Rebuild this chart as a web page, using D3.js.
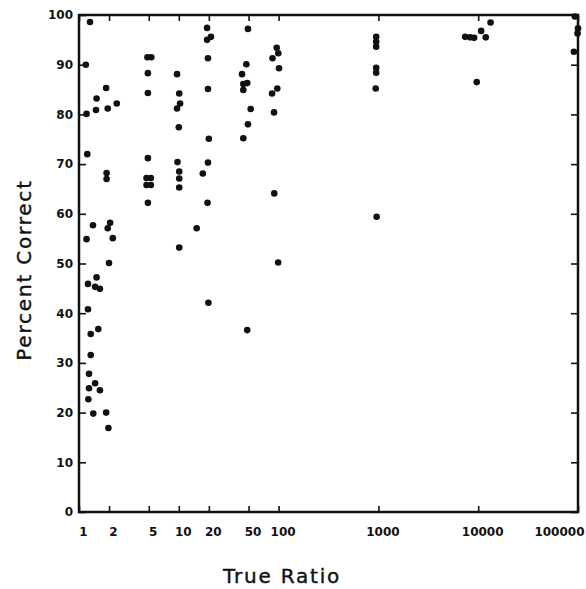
<!DOCTYPE html>
<html>
<meta charset="utf-8">
<style>
  body { margin: 0; background: #fff; }
  text { font-family: "DejaVu Sans", sans-serif; fill: #111; }
</style>
<body>
<script src="https://d3js.org/d3.v7.min.js"></script>
<script>

// true ratio (x) and percent correct (y)
var ratio = [
  // near 1-2
  1.29, 1.17, 1.50, 1.87, 1.19, 1.48, 1.94, 2.39, 1.21, 1.89, 1.89,
  1.38, 2.05, 1.94, 1.19, 2.18, 2.0, 1.50, 1.23, 1.45, 1.62, 1.23,
  1.31, 1.56, 1.31, 1.26, 1.26, 1.45, 1.62, 1.24, 1.39, 1.87, 1.97,
  // 5
  4.85, 5.3, 4.9, 4.9, 4.9, 4.75, 5.25, 4.75, 5.25, 4.9,
  // 10
  9.6, 10.1, 10.3, 9.6, 10.0, 9.7, 10.1, 10.1, 10.1, 10.1,
  // 20
  19.2, 19.2, 21.0, 19.6, 19.6, 20.0, 19.6, 17.4, 19.4, 15.1, 19.8,
  // 50
  49.3, 47.5, 43, 44.3, 48.5, 44.3, 52.5, 49.3, 44.3, 48.5,
  // 100
  95.7, 99.3, 86.9, 101, 97, 86, 90, 90.5, 99,
  // 1000
  950, 950, 950, 950, 950, 940, 960,
  // 10000
  7400, 8300, 9100, 10700, 11900, 13300, 9660,
  // 100000
  93000, 100000, 99000, 91000
];

var percent = [
  98.6, 90.0, 83.2, 85.3, 80.1, 80.9, 81.2, 82.2, 72.0, 68.2, 67.0,
  57.7, 58.2, 57.1, 54.9, 55.1, 50.1, 47.2, 45.9, 45.3, 44.9, 40.8,
  35.8, 36.8, 31.6, 27.8, 24.9, 25.9, 24.5, 22.7, 19.8, 20.0, 16.9,
  91.5, 91.5, 88.3, 84.3, 71.2, 67.2, 67.2, 65.8, 65.8, 62.2,
  88.1, 84.2, 82.2, 81.2, 77.4, 70.4, 68.5, 67.1, 65.3, 53.2,
  97.4, 95.0, 95.6, 91.3, 85.1, 75.1, 70.3, 68.1, 62.2, 57.1, 42.1,
  97.2, 90.1, 88.1, 86.1, 86.3, 84.9, 81.1, 78.0, 75.2, 36.6,
  93.4, 92.3, 91.3, 89.3, 85.2, 84.2, 80.4, 64.1, 50.2,
  95.6, 94.6, 93.6, 89.4, 88.4, 85.2, 59.4,
  95.6, 95.5, 95.4, 96.8, 95.5, 98.5, 86.5,
  99.7, 97.3, 96.3, 92.6
];

var xTicks = [1, 2, 5, 10, 20, 50, 100, 1000, 10000, 100000];
var xTickLabels = ["1", "2", "5", "10", "20", "50", "100", "1000", "10000", "100000"];
var yTicks = [0, 10, 20, 30, 40, 50, 60, 70, 80, 90, 100];

var width = 586, height = 589;
// plot box (window.top is read-only, so no bare "top" here)
var plotL = 79, plotR = 578, plotT = 15, plotB = 512;

var svg = d3.select("body").append("svg")
  .attr("width", width)
  .attr("height", height);

var x = d3.scaleLog().domain([1, 100000]).range([plotL, plotR]);
var y = d3.scaleLinear().domain([0, 100]).range([plotB, plotT]);

// ticks on all four sides, pointing inward
function styleAxis(g) {
  g.select(".domain").remove();
  g.selectAll(".tick line").attr("stroke", "#111").attr("stroke-width", 1.6);
}

svg.append("g")
  .attr("transform", "translate(0," + plotB + ")")
  .call(d3.axisBottom(x).tickValues(xTicks).tickSize(-6)
    .tickFormat(function(d, i) { return xTickLabels[i]; }))
  .call(styleAxis)
  .call(function(g) {
    g.selectAll(".tick text")
      .attr("y", 15)
      .attr("dx", 4)
      .style("font-size", "12px")
      .style("font-weight", "bold")
      .style("font-family", "'DejaVu Sans', sans-serif");
    g.selectAll(".tick").filter(function(d) { return d === 100000; })
      .select("text").attr("text-anchor", "end").attr("dx", 6);
  });

svg.append("g")
  .attr("transform", "translate(0," + plotT + ")")
  .call(d3.axisTop(x).tickValues(xTicks).tickSize(-6).tickFormat(""))
  .call(styleAxis);

svg.append("g")
  .attr("transform", "translate(" + plotL + ",0)")
  .call(d3.axisLeft(y).tickValues(yTicks).tickSize(-7).tickPadding(6))
  .call(styleAxis)
  .call(function(g) {
    g.selectAll(".tick text")
      .style("font-size", "12px")
      .style("font-weight", "bold")
      .style("font-family", "'DejaVu Sans', sans-serif");
  });

svg.append("g")
  .attr("transform", "translate(" + plotR + ",0)")
  .call(d3.axisRight(y).tickValues(yTicks).tickSize(-7).tickFormat(""))
  .call(styleAxis);

// frame
svg.append("rect")
  .attr("x", plotL)
  .attr("y", plotT)
  .attr("width", plotR - plotL)
  .attr("height", plotB - plotT)
  .attr("fill", "none")
  .attr("stroke", "#111")
  .attr("stroke-width", 2.5);

svg.append("g")
  .selectAll("circle")
  .data(ratio)
  .enter().append("circle")
    .attr("cx", function(d) { return x(d); })
    .attr("cy", function(d, i) { return y(percent[i]); })
    .attr("r", 3.3)
    .attr("fill", "#111");

svg.append("text")
  .attr("x", 282)
  .attr("y", 583)
  .attr("text-anchor", "middle")
  .style("font-size", "20px")
  .style("letter-spacing", "1.8px")
  .style("stroke", "#111")
  .style("stroke-width", 0.4)
  .text("True Ratio");

svg.append("text")
  .attr("transform", "translate(31,270) rotate(-90)")
  .attr("text-anchor", "middle")
  .style("font-size", "20px")
  .style("letter-spacing", "1.8px")
  .style("stroke", "#111")
  .style("stroke-width", 0.4)
  .text("Percent Correct");

</script>
</body>
</html>
